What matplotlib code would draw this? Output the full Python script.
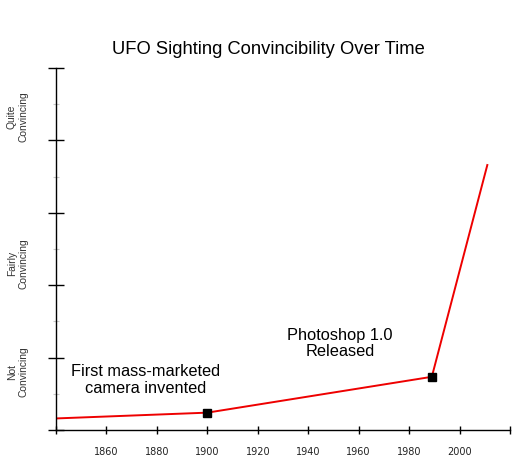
import matplotlib
matplotlib.use("Agg")
import matplotlib.pyplot as plt
from matplotlib.ticker import MultipleLocator

# data
years = [1840, 1900, 1989, 2011]
convincing = [0.32, 0.48, 1.47, 7.32]
event_idx = [1, 2]  # points that get a black square

xtick_years = [1840, 1860, 1880, 1900, 1920, 1940, 1960, 1980, 2000, 2020]
xtick_labels = ["", "1860", "1880", "1900", "1920", "1940", "1960", "1980", "2000", ""]

level_names = ["Not\nConvincing", "Fairly\nConvincing", "Quite\nConvincing"]
level_pos = [1.6, 4.6, 8.65]

notes = ["First mass-marketed\ncamera invented", "Photoshop 1.0\nReleased"]
note_pos = [(1875.5, 1.38), (1952.5, 2.4)]

fig = plt.figure(figsize=(5.30, 4.71), dpi=100)
ax = fig.add_axes([0.1057, 0.0870, 0.9623 - 0.1057, 0.8556 - 0.0870])

ax.plot(years, convincing, color="#ee0000", linewidth=1.4, zorder=2)
ax.plot([years[i] for i in event_idx], [convincing[i] for i in event_idx],
        linestyle="none", marker="s", markersize=5.8, color="black", zorder=3)

ax.set_xlim(1840, 2020)
ax.set_ylim(0, 10)

for s in ["top", "right"]:
    ax.spines[s].set_visible(False)
for s in ["left", "bottom"]:
    ax.spines[s].set_linewidth(1.0)

ax.set_xticks(xtick_years)
ax.set_xticklabels(xtick_labels, fontfamily="DejaVu Sans", fontsize=7, color="#222222")
ax.tick_params(axis="x", direction="inout", length=6, width=1.0, pad=9.5)

ax.yaxis.set_major_locator(MultipleLocator(2))
ax.yaxis.set_minor_locator(MultipleLocator(1))
ax.tick_params(axis="y", which="major", direction="inout", length=12, width=1.0,
               labelleft=False)
ax.tick_params(axis="y", which="minor", direction="inout", length=5, width=0.8,
               color="#c8c8c8", labelleft=False)

for name, yp in zip(level_names, level_pos):
    ax.text(-0.085, yp, name, transform=ax.get_yaxis_transform(), rotation=90,
            ha="center", va="center", multialignment="center",
            fontfamily="Liberation Sans", fontsize=7.4, color="#333333", linespacing=1.15)

for txt, (nx, ny) in zip(notes, note_pos):
    ax.text(nx, ny, txt, ha="center", va="center", multialignment="center",
            fontfamily="Liberation Sans", fontsize=11.8, color="black", linespacing=1.1)

fig.text(268 / 530, 1 - 50 / 471, "UFO Sighting Convincibility Over Time",
         ha="center", va="center", fontfamily="Liberation Sans", fontsize=13.2,
         color="black")

fig.savefig("out.png", dpi=100, facecolor="white")
